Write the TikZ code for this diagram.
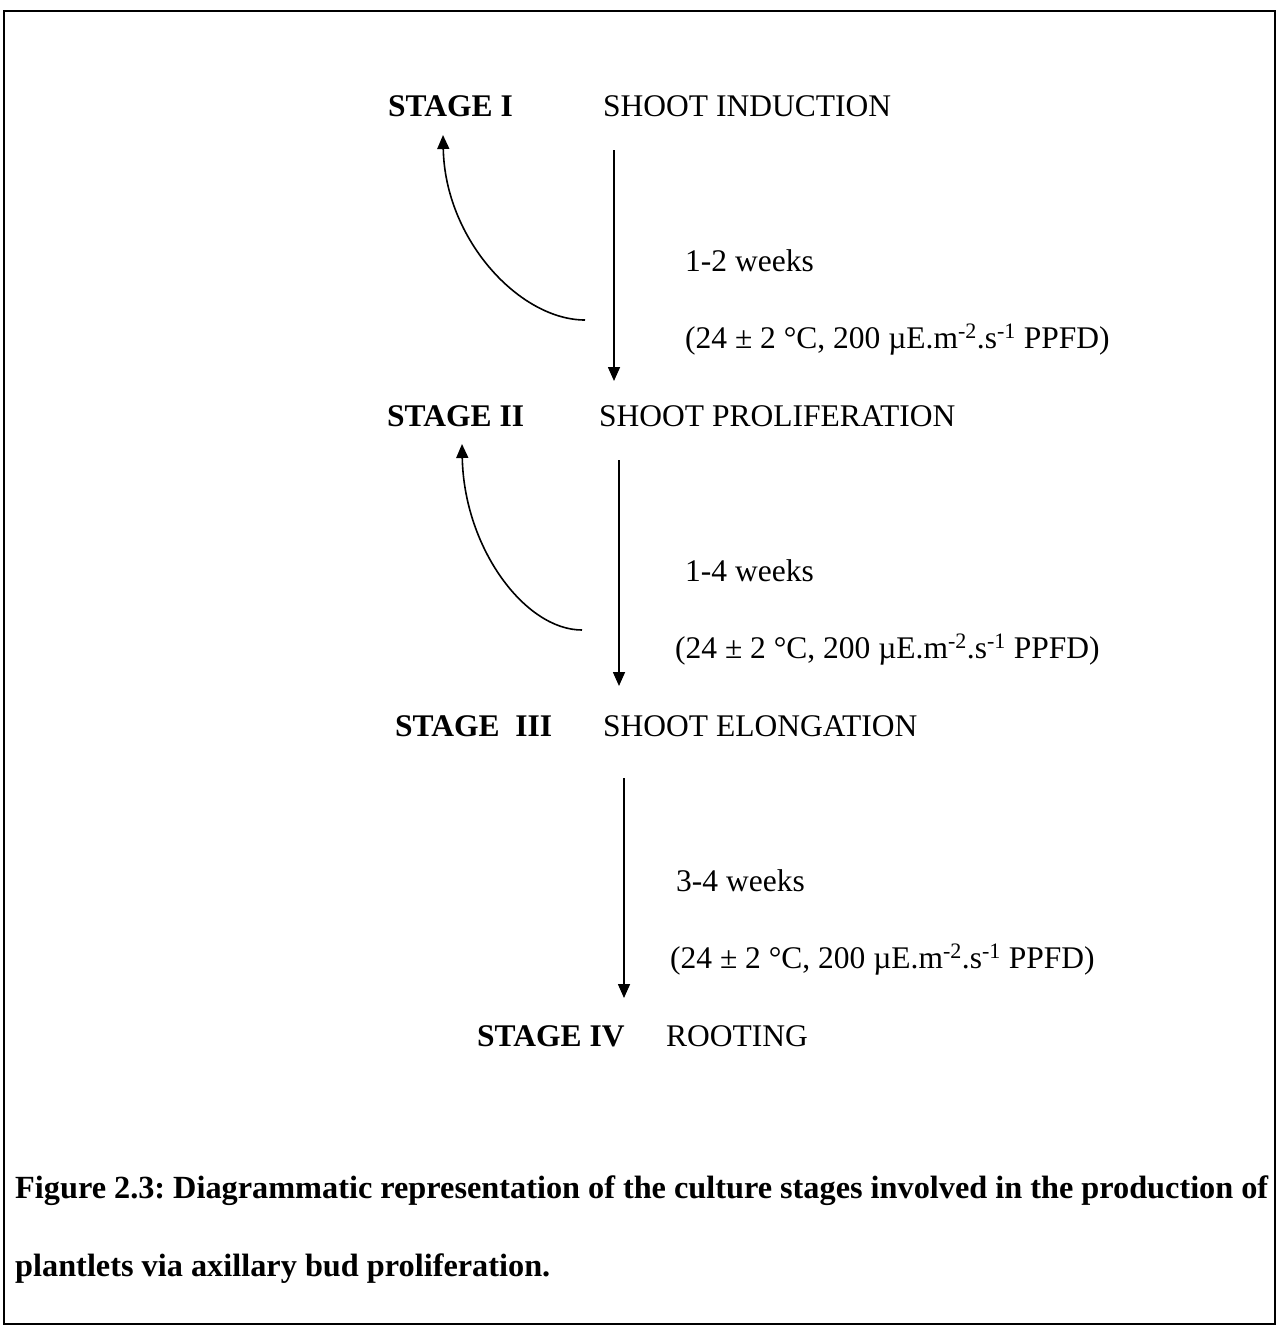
\documentclass[tikz,border=0pt]{standalone}
\usepackage{fontspec}
\setmainfont{Liberation Serif}
\usetikzlibrary{arrows.meta}
\frenchspacing
\begin{document}
\begin{tikzpicture}[x=1pt,y=-1pt,
  txt/.style={anchor=base west,inner sep=0pt,font=\fontsize{31.5}{38}\selectfont},
  stagelbl/.style={txt,font=\fontsize{31.5}{38}\selectfont\bfseries},
  captxt/.style={anchor=base west,inner sep=0pt,font=\fontsize{32.3}{40}\selectfont\bfseries},
  flow/.style={line width=1.6pt,-{Triangle[length=14pt,width=12pt]}},
  back/.style={line width=1.6pt,-{Triangle[length=14pt,width=12pt]}}]
\useasboundingbox (0,0) rectangle (1279,1326);
\draw[line width=2.6pt] (4,11) rectangle (1275,1324);

% stage labels
\node[stagelbl] (s1) at (388,116) {STAGE I};
\node[txt] (n1) at (603,116) {SHOOT INDUCTION};
\node[stagelbl] (s2) at (387,426) {STAGE II};
\node[txt] (n2) at (599,426) {SHOOT PROLIFERATION};
\node[stagelbl] (s3) at (395,736) {STAGE\ \ III};
\node[txt] (n3) at (603,736) {SHOOT ELONGATION};
\node[stagelbl] (s4) at (477,1046) {STAGE IV};
\node[txt] (n4) at (666,1046) {ROOTING};

% durations and conditions
\node[txt] (w1) at (685,271) {1-2 weeks};
\node[txt] (c1) at (685,348) {(24 ± 2 °C, 200 µE.m\textsuperscript{-2}.s\textsuperscript{-1} PPFD)};
\node[txt] (w2) at (685,581) {1-4 weeks};
\node[txt] (c2) at (675,658) {(24 ± 2 °C, 200 µE.m\textsuperscript{-2}.s\textsuperscript{-1} PPFD)};
\node[txt] (w3) at (676,891) {3-4 weeks};
\node[txt] (c3) at (670,968) {(24 ± 2 °C, 200 µE.m\textsuperscript{-2}.s\textsuperscript{-1} PPFD)};

% connector end points
\coordinate (a1s) at (614,150);
\coordinate (a1e) at (614,381);
\coordinate (a2s) at (619,460);
\coordinate (a2e) at (619,686);
\coordinate (a3s) at (624,778);
\coordinate (a3e) at (624,998);
\coordinate (b1s) at (585,320);
\coordinate (b1e) at (443,135);
\coordinate (b2s) at (582,630);
\coordinate (b2e) at (462,444);

\draw[flow] (a1s) -- (a1e);
\draw[flow] (a2s) -- (a2e);
\draw[flow] (a3s) -- (a3e);
\draw[back] (b1s) .. controls (520,320) and (445,240) .. (b1e);
\draw[back] (b2s) .. controls (525,630) and (464,548) .. (b2e);

% caption
\node[captxt] (cap1) at (15,1198) {\makebox[1253pt][s]{Figure 2.3: Diagrammatic representation of the culture stages involved in the production of}};
\node[captxt] (cap2) at (15,1276) {plantlets via axillary bud proliferation.};
\end{tikzpicture}
\end{document}
